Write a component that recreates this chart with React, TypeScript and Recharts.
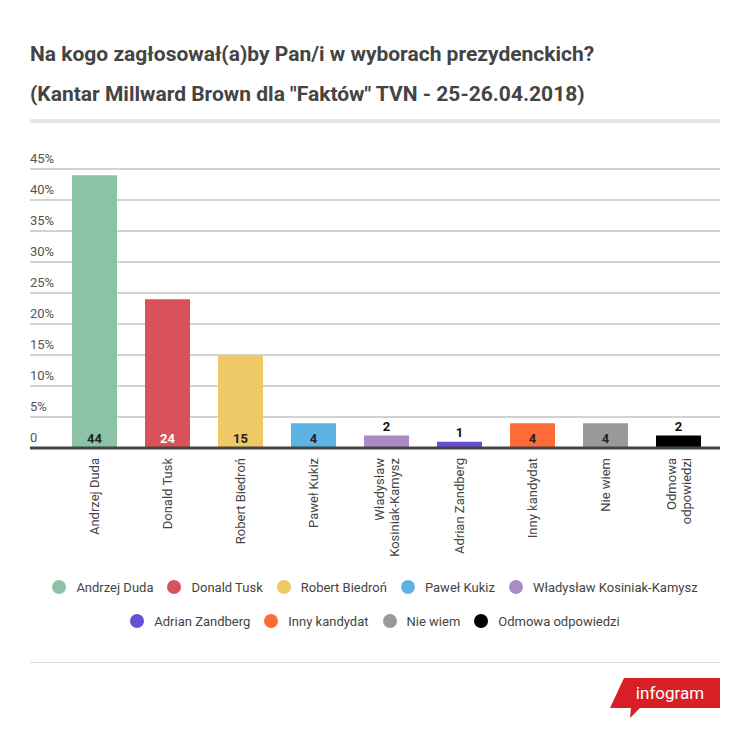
import React from "react";
import { BarChart, Bar, XAxis, YAxis, CartesianGrid, Cell, LabelList } from "recharts";

const candidates = [
  "Andrzej Duda",
  "Donald Tusk",
  "Robert Biedroń",
  "Paweł Kukiz",
  "Władysław Kosiniak-Kamysz",
  "Adrian Zandberg",
  "Inny kandydat",
  "Nie wiem",
  "Odmowa odpowiedzi",
];
const axisLabels = [
  "Andrzej Duda",
  "Donald Tusk",
  "Robert Biedroń",
  "Paweł Kukiz",
  "Władysław\nKosiniak-Kamysz",
  "Adrian Zandberg",
  "Inny kandydat",
  "Nie wiem",
  "Odmowa\nodpowiedzi",
];
const votes = [44, 24, 15, 4, 2, 1, 4, 4, 2];
const colors = ["#8cc3a7", "#d9515a", "#eec966", "#5db4e4", "#a98cc6", "#6a4fd6", "#ff6b36", "#999999", "#000000"];
const labelColors = ["#222", "#fff", "#222", "#222", "#222", "#222", "#222", "#222", "#222"];
const yTicks = [0, 5, 10, 15, 20, 25, 30, 35, 40, 45];

const data = candidates.map((name, i) => ({ name, label: axisLabels[i], value: votes[i] }));

const FONT = "Roboto, 'DejaVu Sans', sans-serif";

function renderYTick(props: any) {
  const { y, payload } = props;
  return (
    <text x={30} y={y - 6} textAnchor="start" fill="#555" fontSize={13} fontFamily={FONT}>
      {payload.value === 0 ? "0" : `${payload.value}%`}
    </text>
  );
}

function renderXTick(props: any) {
  const { x, y, index } = props;
  const lines = axisLabels[index].split("\n");
  const off = ((lines.length - 1) * 15) / 2;
  return (
    <g transform={`translate(${x},${y + 2}) rotate(-90)`}>
      <text textAnchor="end" fill="#444" fontSize={13} fontFamily={FONT}>
        {lines.map((l, i) => (
          <tspan key={i} x={0} y={i * 15 - off} dy="0.35em">
            {l}
          </tspan>
        ))}
      </text>
    </g>
  );
}

function ValueLabel(props: any) {
  const { x, y, width, height, value, index } = props;
  const inside = value >= 4;
  const cx = x + width / 2;
  return (
    <text
      x={cx}
      y={inside ? y + height - 5 : y - 5}
      textAnchor="middle"
      fill={inside ? labelColors[index] : "#111"}
      fontSize={13}
      fontWeight="bold"
      fontFamily={FONT}
    >
      {value}
    </text>
  );
}

export default function App() {
  return (
    <div style={{ position: "absolute", left: 0, top: 0, width: 750, height: 736, background: "#fff", fontFamily: FONT }}>
      <div style={{ position: "absolute", left: 30, top: 34, fontSize: 21, fontWeight: "bold", color: "#444", lineHeight: "40px" }}>
        <div>Na kogo zagłosował(a)by Pan/i w wyborach prezydenckich?</div>
        <div>(Kantar Millward Brown dla "Faktów" TVN - 25-26.04.2018)</div>
      </div>
      <div style={{ position: "absolute", left: 30, top: 119, width: 690, height: 4, background: "#e6e6e6" }} />

      <div style={{ position: "absolute", left: 0, top: 140 }}>
        <BarChart width={750} height={420} data={data} margin={{ top: 29, right: 30, left: 30, bottom: 0 }} barSize={45}>
          <CartesianGrid vertical={false} stroke="#a6a6a6" strokeWidth={1} />
          <YAxis
            domain={[0, 45]}
            ticks={yTicks}
            width={1}
            mirror
            tickSize={0}
            tickMargin={0}
            axisLine={false}
            tickLine={false}
            tick={renderYTick}
            interval={0}
          />
          <XAxis
            dataKey="name"
            height={112}
            interval={0}
            padding={{ left: 28, right: 5 }}
            axisLine={{ stroke: "#444", strokeWidth: 3 }}
            tickLine={false}
            tick={renderXTick}
          />
          <Bar dataKey="value" isAnimationActive={false}>
            {data.map((d, i) => (
              <Cell key={i} fill={colors[i]} />
            ))}
            <LabelList dataKey="value" content={<ValueLabel />} />
          </Bar>
        </BarChart>
      </div>

      <div
        style={{
          position: "absolute",
          left: 30,
          top: 576,
          width: 690,
          display: "flex",
          flexWrap: "wrap",
          justifyContent: "center",
          rowGap: 12,
          columnGap: 14,
        }}
      >
        {candidates.map((c, i) => (
          <div key={c} style={{ display: "flex", alignItems: "center", height: 22 }}>
            <div style={{ width: 14, height: 14, borderRadius: 7, background: colors[i], marginRight: 10 }} />
            <span style={{ fontSize: 13, color: "#444" }}>{c}</span>
          </div>
        ))}
      </div>

      <div style={{ position: "absolute", left: 30, top: 662, width: 690, height: 1, background: "#dddddd" }} />
      <svg style={{ position: "absolute", left: 600, top: 670 }} width={130} height={55}>
        <polygon points="24,8 120,8 120,38 40,38 30,48 31,38 10,38" fill="#d81f26" />
        <text x={70} y={29} textAnchor="middle" fill="#fff" fontSize={17} fontFamily={FONT}>
          infogram
        </text>
      </svg>
    </div>
  );
}
